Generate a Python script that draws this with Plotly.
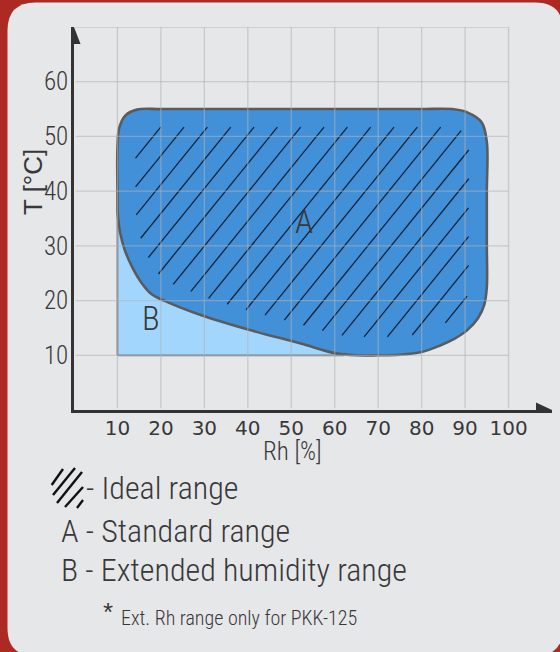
import numpy as np
import plotly.graph_objects as go

# ---------------- data ----------------
rh_ticks = [10, 20, 30, 40, 50, 60, 70, 80, 90, 100]
t_ticks = [10, 20, 30, 40, 50, 60]
grid_rh = [10, 20, 30, 40, 50, 60, 70, 80, 90, 100]
grid_t = [10, 20, 30, 40, 50, 60, 70]

# A - standard range boundary (Rh %, T degC)
a_rh = [10, 10.4, 11.8, 14.5, 20, 30, 40, 50, 60, 70, 80, 87, 90.5, 93.8, 95,
        95, 95, 95, 94.4, 93, 90.5, 87.5, 84, 80, 75, 70, 65,
        60, 52, 40.5, 29, 21, 17.8, 15.4, 13.6, 11.7, 10.6, 10.1, 10, 10]
a_t = [48, 51.5, 53.8, 54.9, 55, 55, 55, 55, 55, 55, 55, 55, 54.4, 52.6, 49,
       40, 30, 22.5, 19.2, 16.8, 14.6, 13, 11.7, 10.6, 10.1, 10, 10,
       10.4, 12.2, 14.6, 17.4, 19.9, 21.2, 23.4, 25.8, 29.2, 32.5, 35.5, 40, 48]

# B - extended humidity range (Rh %, T degC)
b_rh = [10, 62, 62, 10, 10]
b_t = [10, 10, 37, 37, 10]

legend_lines = ["- Ideal range", "A - Standard range", "B - Extended humidity range"]
footnote = "Ext. Rh range only for PKK-125"

# ---------------- layout geometry ----------------
W, H = 560, 652
ML, MR, MT, MB = 74, 8, 27, 242
X_RANGE = [0, 110]
Y_RANGE = [0, 70]
PW, PH = W - ML - MR, H - MT - MB


def px_x(v):
    return ML + (v - X_RANGE[0]) / (X_RANGE[1] - X_RANGE[0]) * PW


def px_y(v):
    return MT + (Y_RANGE[1] - v) / (Y_RANGE[1] - Y_RANGE[0]) * PH


def dx_from_px(p):
    return X_RANGE[0] + (p - ML) / PW * (X_RANGE[1] - X_RANGE[0])


def dy_from_px(p):
    return Y_RANGE[1] - (p - MT) / PH * (Y_RANGE[1] - Y_RANGE[0])


def paper_x(p):
    return (p - ML) / PW


def paper_y(p):
    return (H - MB - p) / PH


# ---------------- hatch (ideal range) ----------------
poly = np.column_stack([[px_x(v) for v in a_rh], [px_y(v) for v in a_t]])
ex0 = poly[:-1]
ex1 = poly[1:]


def inside(pts):
    x = pts[:, 0][:, None]
    y = pts[:, 1][:, None]
    x0, y0 = ex0[:, 0][None, :], ex0[:, 1][None, :]
    x1, y1 = ex1[:, 0][None, :], ex1[:, 1][None, :]
    cond = ((y0 > y) != (y1 > y))
    with np.errstate(divide="ignore", invalid="ignore"):
        xint = x0 + (y - y0) * (x1 - x0) / (y1 - y0)
    cross = cond & (x < xint)
    return (cross.sum(axis=1) % 2) == 1


def dist(pts):
    p = pts[:, None, :]
    a = ex0[None, :, :]
    b = ex1[None, :, :]
    ab = b - a
    t = ((p - a) * ab).sum(-1) / np.maximum((ab * ab).sum(-1), 1e-9)
    t = np.clip(t, 0, 1)
    proj = a + t[..., None] * ab
    return np.sqrt(((p - proj) ** 2).sum(-1)).min(axis=1)


ang = np.deg2rad(51)
dvec = np.array([np.cos(ang), -np.sin(ang)])
ref = np.array([161.0, 126.7])
spacing = 23.33
inset = 18.0
hx, hy = [], []
for k in range(-25, 30):
    p0 = ref + np.array([k * spacing, 0.0])
    ts = np.arange(-700, 700, 0.5)
    pts = p0[None, :] + ts[:, None] * dvec[None, :]
    keep = (pts[:, 0] > ML) & (pts[:, 0] < ML + PW) & (pts[:, 1] > MT) & (pts[:, 1] < MT + PH)
    pts = pts[keep]
    if len(pts) == 0:
        continue
    m = inside(pts)
    if m.any():
        mm = np.zeros(len(pts), bool)
        mm[m] = dist(pts[m]) >= inset
        m = mm
    idx = np.flatnonzero(np.diff(np.concatenate([[0], m.astype(int), [0]])))
    for s, e in zip(idx[::2], idx[1::2]):
        if e - 1 - s < 4:
            continue
        a, b = pts[s], pts[e - 1]
        hx += [dx_from_px(a[0]), dx_from_px(b[0]), None]
        hy += [dy_from_px(a[1]), dy_from_px(b[1]), None]

# ---------------- figure ----------------
RED = "#ad2a24"
PANEL = "#e6e7e9"
A_COL = "#4190d8"
B_COL = "#a3d6fd"
TXT = "#383838"
NARROW = "Roboto Condensed, Liberation Sans Narrow, Liberation Sans, sans-serif"
REG = "Liberation Sans, Arial, sans-serif"
WT = 350

fig = go.Figure()
fig.add_trace(go.Scatter(x=b_rh, y=b_t, mode="lines", fill="toself", fillcolor=B_COL,
                         line=dict(color="#6f7c86", width=1.8), hoverinfo="skip"))
fig.add_trace(go.Scatter(x=a_rh, y=a_t, mode="lines", fill="toself", fillcolor=A_COL,
                         line=dict(color="#5a5b5d", width=2.6, shape="spline", smoothing=1.0),
                         hoverinfo="skip"))
fig.add_trace(go.Scatter(x=hx, y=hy, mode="lines", line=dict(color="#13243a", width=1.3),
                         hoverinfo="skip", connectgaps=False))

shapes = []
x0, y0, x1, y1, r = 7.5, 2.5, 563, 656, 28
pp = lambda a, b: f"{paper_x(a):.5f},{paper_y(b):.5f}"
path = (f"M {pp(x0 + r, y0)} L {pp(x1 - r, y0)} Q {pp(x1, y0)} {pp(x1, y0 + r)} "
        f"L {pp(x1, y1 - r)} Q {pp(x1, y1)} {pp(x1 - r, y1)} L {pp(x0 + r, y1)} "
        f"Q {pp(x0, y1)} {pp(x0, y1 - r)} L {pp(x0, y0 + r)} Q {pp(x0, y0)} {pp(x0 + r, y0)} Z")
shapes.append(dict(type="path", xref="paper", yref="paper", path=path, fillcolor=PANEL,
                   line=dict(width=0), layer="below"))
GRID = "rgba(178,178,180,0.56)"
for g in grid_t:
    shapes.append(dict(type="line", xref="x", yref="y", x0=0.35, x1=max(grid_rh), y0=g, y1=g,
                       line=dict(color=GRID, width=1.3), layer="above"))
for g in grid_rh:
    shapes.append(dict(type="line", xref="x", yref="y", x0=g, x1=g, y0=0.3, y1=max(grid_t),
                       line=dict(color=GRID, width=1.3), layer="above"))
AX = "#333333"
L_ARR, W_ARR = 16, 7.5
xt, yt = X_RANGE[1], 0
shapes.append(dict(type="path", xref="x", yref="y",
                   path=(f"M {xt},{yt} L {dx_from_px(px_x(xt) - L_ARR)},{dy_from_px(px_y(yt) - W_ARR)} "
                         f"L {dx_from_px(px_x(xt) - L_ARR)},{dy_from_px(px_y(yt) + W_ARR)} Z"),
                   fillcolor=AX, line=dict(width=0), layer="above"))
xt, yt = 0, Y_RANGE[1]
shapes.append(dict(type="path", xref="x", yref="y",
                   path=(f"M {xt},{yt} L {dx_from_px(px_x(xt) - 6.5)},{dy_from_px(px_y(yt) + L_ARR + 1)} "
                         f"L {dx_from_px(px_x(xt) + 6.5)},{dy_from_px(px_y(yt) + L_ARR + 1)} Z"),
                   fillcolor=AX, line=dict(width=0), layer="above"))
icon = [((51.7, 485), (63, 469)), ((53, 495), (75, 468)), ((57, 503), (82, 472)),
        ((65, 507), (83, 487)), ((77, 508), (83, 500))]
for (ax_, ay_), (bx_, by_) in icon:
    shapes.append(dict(type="line", xref="paper", yref="paper", x0=paper_x(ax_), y0=paper_y(ay_),
                       x1=paper_x(bx_), y1=paper_y(by_), line=dict(color="#111111", width=2.4)))

ann = []
ann.append(dict(x=dx_from_px(303.5), y=dy_from_px(221), xref="x", yref="y", text="A",
                showarrow=False, xanchor="center", yanchor="middle",
                font=dict(family=NARROW, size=33, color=TXT, weight=WT)))
ann.append(dict(x=dx_from_px(151), y=dy_from_px(318), xref="x", yref="y", text="B",
                showarrow=False, xanchor="center", yanchor="middle",
                font=dict(family=NARROW, size=33, color=TXT, weight=WT)))
ann.append(dict(x=paper_x(292), y=paper_y(451), xref="paper", yref="paper", text="Rh [%]",
                showarrow=False, xanchor="center", yanchor="middle",
                font=dict(family=NARROW, size=25, color=TXT, weight=WT)))
ann.append(dict(x=paper_x(33), y=paper_y(182), xref="paper", yref="paper", text="T [°C]",
                textangle=-90, showarrow=False, xanchor="center", yanchor="middle",
                font=dict(family=REG, size=26, color=TXT)))
leg_pos = [(84, 488), (59, 531), (59, 570)]
for txt, (lx, ly) in zip(legend_lines, leg_pos):
    ann.append(dict(x=paper_x(lx), y=paper_y(ly), xref="paper", yref="paper", text=txt,
                    showarrow=False, xanchor="left", yanchor="middle",
                    font=dict(family=NARROW, size=32, color=TXT, weight=WT)))
ann.append(dict(x=paper_x(101), y=paper_y(612), xref="paper", yref="paper", text="*",
                showarrow=False, xanchor="left", yanchor="middle",
                font=dict(family=REG, size=26, color=TXT)))
ann.append(dict(x=paper_x(119), y=paper_y(618), xref="paper", yref="paper", text=footnote,
                showarrow=False, xanchor="left", yanchor="middle",
                font=dict(family=NARROW, size=20, color=TXT, weight=WT)))

fig.update_layout(
    width=W, height=H, autosize=False,
    margin=dict(l=ML, r=MR, t=MT, b=MB, pad=0, autoexpand=False),
    paper_bgcolor=RED, plot_bgcolor="rgba(0,0,0,0)",
    showlegend=False, shapes=shapes, annotations=ann,
    xaxis=dict(range=X_RANGE, showgrid=False, zeroline=False, showline=True, linecolor=AX,
               linewidth=2.5, tickvals=rh_ticks, ticktext=[str(v) for v in rh_ticks],
               ticks="", ticklabelstandoff=-2,
               tickfont=dict(family="DejaVu Sans, sans-serif", size=20, color=TXT),
               fixedrange=True),
    yaxis=dict(range=Y_RANGE, showgrid=False, zeroline=False, showline=True, linecolor=AX,
               linewidth=2.5, tickvals=t_ticks, ticktext=[str(v) for v in t_ticks],
               ticks="", ticklabelstandoff=-2,
               tickfont=dict(family=NARROW, size=25, color=TXT, weight=WT),
               fixedrange=True),
)

post = "document.body.style.margin='0'; document.body.style.padding='0';"
fig.write_html("out.html", post_script=post, config={"displayModeBar": False})
